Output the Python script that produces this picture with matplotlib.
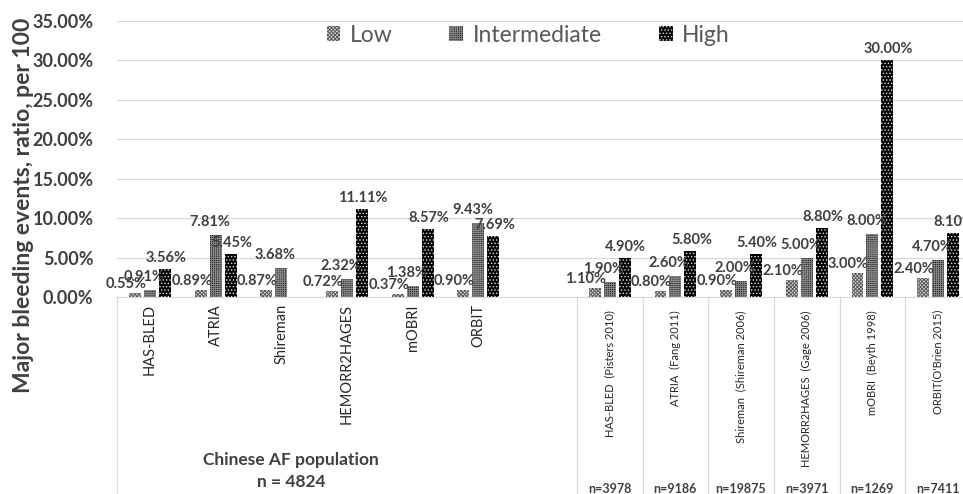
import numpy as np
import matplotlib
matplotlib.use("Agg")
import matplotlib.pyplot as plt
import matplotlib.transforms as mtransforms
from matplotlib.lines import Line2D

plt.rcParams['font.family'] = ['Lato', 'Noto Sans CJK SC', 'DejaVu Sans']
plt.rcParams['hatch.linewidth'] = 0.6

# data (percent)
cats_cn = ['HAS-BLED', 'ATRIA', 'Shireman', 'HEMORR2HAGES', 'mOBRI', 'ORBIT']
low_cn = [0.55, 0.89, 0.87, 0.72, 0.37, 0.90]
int_cn = [0.91, 7.81, 3.68, 2.32, 1.38, 9.43]
high_cn = [3.56, 5.45, np.nan, 11.11, 8.57, 7.69]

cats_ref = ['HAS-BLED  (Pisters 2010)', 'ATRIA  (Fang 2011)',
            'Shireman  (Shireman 2006)', 'HEMORR2HAGES  (Gage 2006)',
            'mOBRI  (Beyth 1998)', "ORBIT(O'Brien 2015)"]
low_ref = [1.10, 0.80, 0.90, 2.10, 3.00, 2.40]
int_ref = [1.90, 2.60, 2.00, 5.00, 8.00, 4.70]
high_ref = [4.90, 5.80, 5.40, 8.80, 30.00, 8.10]
n_ref = [3978, 9186, 19875, 3971, 1269, 7411]

series = ['Low', 'Intermediate', 'High']
yticks = [0, 5, 10, 15, 20, 25, 30, 35]

W, H = 963, 494
fig = plt.figure(figsize=(W / 100, H / 100), dpi=100)
ax = fig.add_axes([117.2 / W, 1 - 297 / H, 853.7 / W, 276 / H])

x_cn = np.arange(6)
x_ref = np.arange(7, 13)
x_all = np.concatenate([x_cn, x_ref])
vals = {
    'Low': np.array(low_cn + low_ref),
    'Intermediate': np.array(int_cn + int_ref),
    'High': np.array(high_cn + high_ref),
}

styles = {
    'Low': dict(facecolor='#d0d0d0', edgecolor='#505050', hatch='xxxxxxxxx'),
    'Intermediate': dict(facecolor='#2a2a2a', edgecolor='#8a8a8a', hatch='++++++++'),
    'High': dict(facecolor='black', edgecolor='#e0e0e0', hatch='.....'),
}
offs = {'Low': -0.228, 'Intermediate': 0.0, 'High': 0.228}
lab_off = {'Low': (-9, 9), 'Intermediate': (-6, 13), 'High': (1, 11)}

for s in series:
    v = vals[s]
    ax.bar(x_all + offs[s], np.nan_to_num(v), width=0.18, linewidth=0,
           label=s, zorder=3, **styles[s])
    for xi, vi in zip(x_all, v):
        if np.isnan(vi):
            continue
        dx, dy = lab_off[s]
        ax.annotate(f'{vi:.2f}%', (xi + offs[s], vi), xytext=(dx, dy),
                    textcoords='offset pixels', ha='center', va='center',
                    fontsize=10.5, fontweight='bold', color='#404040', zorder=5)

ax.set_xlim(-0.5, 12.5)
ax.set_ylim(0, 35)
ax.set_yticks(yticks)
ax.set_yticklabels([f'{t:.2f}%' for t in yticks], fontsize=13, fontweight='bold',
                   color='#404040')
ax.tick_params(axis='y', length=0, pad=17)
ax.set_xticks([])
ax.grid(axis='y', color='#d9d9d9', linewidth=0.9, zorder=0)
ax.set_axisbelow(True)
for sp in ['top', 'right', 'left']:
    ax.spines[sp].set_visible(False)
ax.spines['bottom'].set_color('#d9d9d9')

fig.text(24 / W, 1 - 205 / H, 'Major bleeding events, ratio, per 100', rotation=90,
         ha='center', va='center', fontsize=16.5, fontweight='bold', color='#404040')

# category axis below
tr = mtransforms.blended_transform_factory(ax.transData, fig.transFigure)
for xi, c in zip(x_cn, cats_cn):
    ax.text(xi, 1 - 304 / H, c, transform=tr, rotation=90, ha='center', va='top',
            fontsize=10.5, color='#262626')
for xi, c, n in zip(x_ref, cats_ref, n_ref):
    ax.text(xi, 1 - 310 / H, c, transform=tr, rotation=90, ha='center', va='top',
            fontsize=8, color='#262626')
    ax.text(xi, 1 - 489 / H, f'n={n}', transform=tr, ha='center', va='center',
            fontsize=9, fontweight='bold', color='#404040')

for xb in [-0.5, 6.5, 7.5, 8.5, 9.5, 10.5, 11.5]:
    ax.add_line(Line2D([xb, xb], [1 - 297 / H, 0], transform=tr, color='#d9d9d9',
                       linewidth=0.9, clip_on=False))

fig.text(291 / W, 1 - 460 / H, 'Chinese AF population', ha='center', va='center',
         fontsize=12.5, fontweight='bold', color='#404040')
fig.text(291 / W, 1 - 482 / H, 'n = 4824', ha='center', va='center',
         fontsize=12.5, fontweight='bold', color='#404040')

leg = ax.legend(loc='center', bbox_to_anchor=(528 / W, 1 - 35 / H),
                bbox_transform=fig.transFigure, ncol=3, frameon=False,
                fontsize=16.5, handlelength=0.6, handleheight=0.6,
                handletextpad=0.4, columnspacing=2.5)
for t in leg.get_texts():
    t.set_color('#595959')

fig.savefig('out.png', dpi=100)
